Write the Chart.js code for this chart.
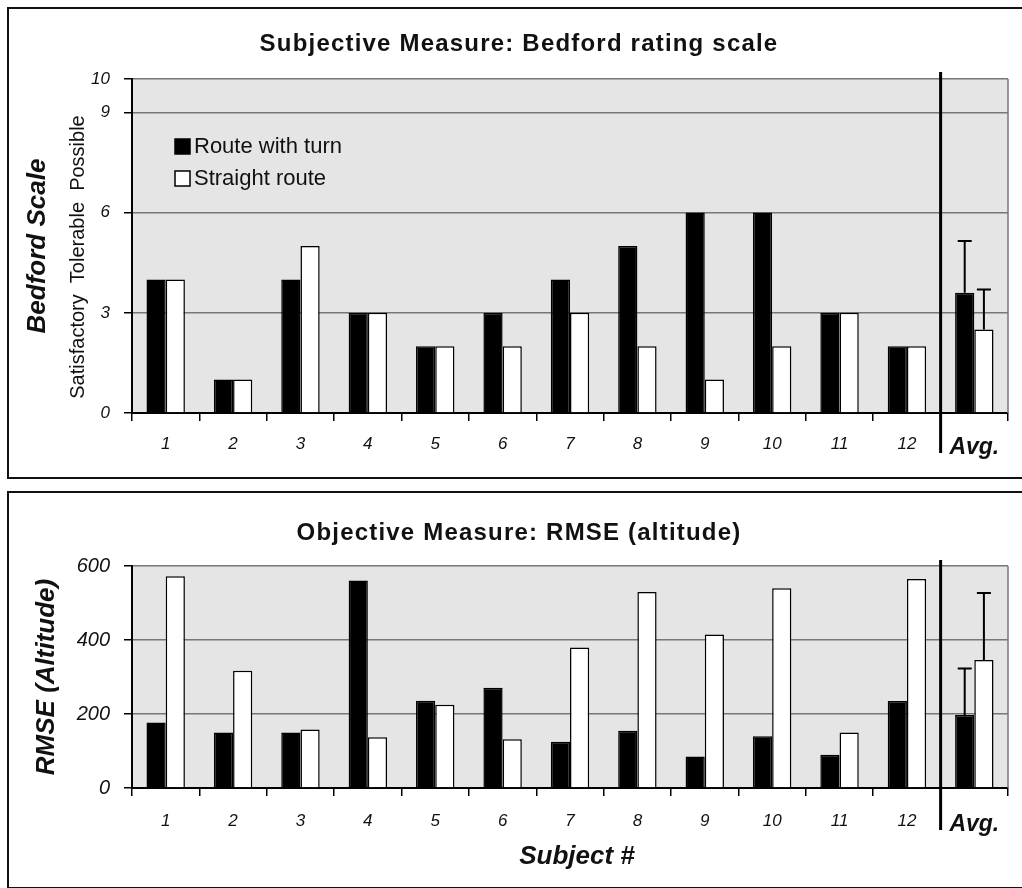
<!DOCTYPE html>
<html>
<head>
<meta charset="utf-8">
<script src="https://cdn.jsdelivr.net/npm/chart.js@4"></script>
<style>
  body { margin: 0; width: 1022px; height: 888px; overflow: hidden; background: #fff; position: relative; }
  .box { position: absolute; border: 2px solid #111; left: 7px; width: 1040px; }
  canvas { position: absolute; left: 0; }
</style>
</head>
<body>
<div class="box" style="top:7px;height:468px"></div>
<div class="box" style="top:491px;height:394px"></div>
<canvas id="top" width="1022" height="480" style="top:0"></canvas>
<canvas id="bottom" width="1022" height="408" style="top:480px"></canvas>
<script>
// data
const subjects = ['1', '2', '3', '4', '5', '6', '7', '8', '9', '10', '11', '12', 'Avg.'];
const seriesNames = ['Route with turn', 'Straight route'];

const bedfordTurn = [4, 1, 4, 3, 2, 3, 4, 5, 6, 6, 3, 2, 3.6];
const bedfordStraight = [4, 1, 5, 3, 2, 2, 3, 2, 1, 2, 3, 2, 2.5];
const bedfordAvgErr = [1.55, 1.2];
const bedfordTicks = [0, 3, 6, 9, 10];
const bedfordBands = ['Satisfactory', 'Tolerable', 'Possible'];

const rmseTurn = [177, 150, 150, 561, 236, 271, 125, 155, 85, 140, 90, 235, 197];
const rmseStraight = [572, 317, 158, 137, 225, 132, 380, 530, 415, 540, 150, 565, 346];
const rmseAvgErr = [126, 181];
const rmseTicks = [0, 200, 400, 600];

const FONT = '"Liberation Sans", Arial, sans-serif';

// background, right border, separator, error bars, titles, legend
const decor = {
  id: 'decor',
  beforeDraw(chart) {
    const a = chart.chartArea, c = chart.ctx;
    c.save();
    c.fillStyle = '#e5e5e5';
    c.fillRect(a.left, a.top, a.right - a.left, a.bottom - a.top);
    c.restore();
  },
  afterDraw(chart, args, o) {
    const a = chart.chartArea, c = chart.ctx;
    const xs = chart.scales.x, ys = chart.scales.y;
    c.save();
    // right frame
    c.strokeStyle = '#777';
    c.lineWidth = 1.5;
    c.beginPath();
    c.moveTo(a.right, a.top);
    c.lineTo(a.right, a.bottom);
    c.stroke();
    // separator before Avg.
    const sx = (xs.getPixelForValue(11) + xs.getPixelForValue(12)) / 2;
    c.strokeStyle = '#000';
    c.lineWidth = 3;
    c.beginPath();
    c.moveTo(sx, a.top - o.sepUp);
    c.lineTo(sx, a.bottom + o.sepDown);
    c.stroke();
    // error bars on Avg.
    c.lineWidth = 2;
    o.err.forEach((e, i) => {
      const bar = chart.getDatasetMeta(i).data[12];
      const v = chart.data.datasets[i].data[12];
      const yt = ys.getPixelForValue(v + e);
      c.beginPath();
      c.moveTo(bar.x, bar.y);
      c.lineTo(bar.x, yt);
      c.moveTo(bar.x - 7, yt);
      c.lineTo(bar.x + 7, yt);
      c.stroke();
    });
    // title
    c.fillStyle = '#111';
    c.textAlign = 'center';
    c.textBaseline = 'middle';
    c.font = 'bold 24px ' + FONT;
    c.letterSpacing = '1.2px';
    c.fillText(o.title, 519, o.titleY);
    c.letterSpacing = '0px';
    // y title
    c.save();
    c.translate(o.yTitleX, (a.top + a.bottom) / 2);
    c.rotate(-Math.PI / 2);
    c.font = 'italic bold 26px ' + FONT;
    c.fillText(o.yTitle, 0, 0);
    c.restore();
    if (o.bands) {
      c.save();
      c.translate(78, 257);
      c.rotate(-Math.PI / 2);
      c.font = '20px ' + FONT;
      c.fillText(o.bands.join('  '), 0, 0);
      c.restore();
    }
    if (o.xTitle) {
      c.font = 'italic bold 26px ' + FONT;
      c.fillText(o.xTitle, 577, o.xTitleY);
    }
    if (o.legend) {
      const lx = a.left + 43;
      chart.data.datasets.forEach((d, i) => {
        const ly = a.top + 67 + i * 32;
        c.fillStyle = d.backgroundColor;
        c.fillRect(lx, ly - 7, 15, 15);
        c.strokeStyle = '#000';
        c.lineWidth = 1.5;
        c.strokeRect(lx, ly - 7, 15, 15);
        c.fillStyle = '#111';
        c.textAlign = 'left';
        c.font = '22px ' + FONT;
        c.fillText(d.label, lx + 19, ly + 1);
      });
    }
    c.restore();
  }
};

function makeChart(id, turn, straight, ticks, pad, xHeight, tickPad, ySize, opts) {
  return new Chart(document.getElementById(id), {
    type: 'bar',
    data: {
      labels: subjects,
      datasets: [
        { label: seriesNames[0], data: turn, backgroundColor: '#000', borderColor: '#000', borderWidth: 1.5 },
        { label: seriesNames[1], data: straight, backgroundColor: '#fff', borderColor: '#000', borderWidth: 1.5 }
      ]
    },
    options: {
      responsive: false,
      animation: false,
      layout: { padding: pad },
      datasets: { bar: { categoryPercentage: 0.57, barPercentage: 1 } },
      plugins: { legend: { display: false }, title: { display: false }, tooltip: { enabled: false }, decor: opts },
      scales: {
        x: {
          afterFit: s => { s.height = xHeight; },
          grid: { offset: true, drawOnChartArea: false, tickLength: 8, tickColor: '#000', lineWidth: 1.5 },
          border: { color: '#000', width: 2 },
          ticks: {
            color: '#111', padding: tickPad, maxRotation: 0,
            font: ctx => ctx.index === 12 ? { family: FONT, size: 23, style: 'italic', weight: 'bold' } : { family: FONT, size: 17, style: 'italic' }
          }
        },
        y: {
          min: ticks[0], max: ticks[ticks.length - 1],
          afterFit: s => { s.width = 132; },
          afterBuildTicks: s => { s.ticks = ticks.map(v => ({ value: v })); },
          grid: { color: '#777', lineWidth: 1.5, tickLength: 8, tickColor: '#000' },
          border: { color: '#000', width: 2 },
          ticks: { color: '#111', padding: 14, font: { family: FONT, size: ySize, style: 'italic' } }
        }
      }
    },
    plugins: [decor]
  });
}

makeChart('top', bedfordTurn, bedfordStraight, bedfordTicks, { top: 79, right: 14, left: 0, bottom: 0 }, 67, 13, 17, {
  title: 'Subjective Measure: Bedford rating scale', titleY: 44,
  yTitle: 'Bedford Scale', yTitleX: 38, bands: bedfordBands,
  err: bedfordAvgErr, sepUp: 7, sepDown: 40, legend: true
});

makeChart('bottom', rmseTurn, rmseStraight, rmseTicks, { top: 86, right: 14, left: 0, bottom: 0 }, 100, 15, 20, {
  title: 'Objective Measure: RMSE (altitude)', titleY: 53,
  yTitle: 'RMSE (Altitude)', yTitleX: 47,
  err: rmseAvgErr, sepUp: 6, sepDown: 42, xTitle: 'Subject #', xTitleY: 377
});
</script>
</body>
</html>
